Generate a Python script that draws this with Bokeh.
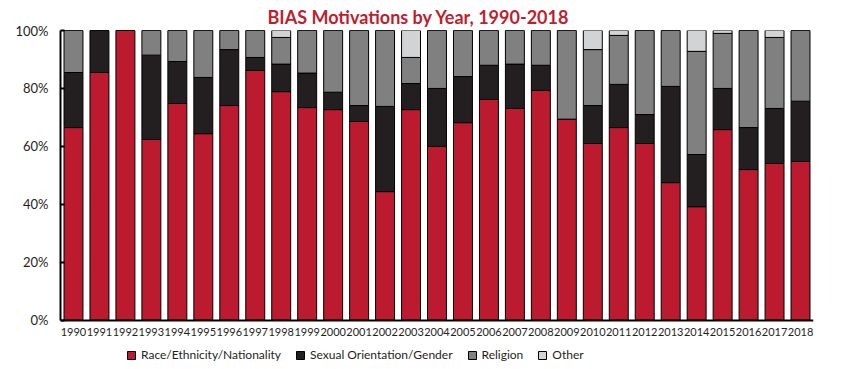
from bokeh.plotting import figure
from bokeh.models import FactorRange, Range1d, Legend, LegendItem, FixedTicker, ColumnDataSource
from bokeh.embed import file_html
from bokeh.resources import INLINE

years = [str(y) for y in range(1990, 2019)]
race = [66.5, 85.5, 100, 62.4, 74.8, 64.4, 74.1, 86.2, 78.9, 73.4, 72.7, 68.6, 44.4, 72.7, 60.0,
        68.2, 76.2, 73.1, 79.3, 69.4, 61.0, 66.5, 61.0, 47.5, 39.2, 65.8, 52.0, 54.1, 54.8]
sexual = [19.0, 14.5, 0, 29.1, 14.5, 19.4, 19.3, 4.5, 9.5, 11.9, 6.0, 5.5, 29.4, 9.0, 20.0,
          15.9, 11.8, 15.3, 8.7, 0, 13.1, 14.9, 10.0, 33.2, 18.0, 14.2, 14.5, 19.0, 20.8]
religion = [14.5, 0, 0, 8.5, 10.7, 16.2, 6.6, 9.3, 9.2, 14.7, 21.3, 25.9, 26.2, 9.0, 20.0,
            15.9, 12.0, 11.6, 12.0, 30.6, 19.3, 16.9, 29.0, 19.3, 35.6, 19.0, 33.5, 24.5, 24.4]
other = [0, 0, 0, 0, 0, 0, 0, 0, 2.4, 0, 0, 0, 0, 9.3, 0,
         0, 0, 0, 0, 0, 6.6, 1.7, 0, 0, 7.2, 1.0, 0, 2.4, 0]
series = ["race", "sexual", "religion", "other"]
names = ["Race/Ethnicity/Nationality", "Sexual Orientation/Gender", "Religion", "Other"]
colors = ["#bb1a2f", "#231f20", "#808080", "#d1d3d4"]
yticks = [0, 20, 40, 60, 80, 100]

src = ColumnDataSource(dict(years=years, race=race, sexual=sexual, religion=religion, other=other))

p = figure(width=844, height=369, output_backend="svg", toolbar_location=None,
           x_range=FactorRange(*years, range_padding=0), y_range=Range1d(-17.0, 100),
           min_border_left=60, min_border_right=31, min_border_top=30, min_border_bottom=0)
p.title.text = "BIAS Motivations by Year, 1990-2018"
p.title.align = "left"
p.title.offset = 207
p.title.text_font = "Lato"
p.title.text_font_size = "18px"
p.title.text_font_style = "bold"
p.title.text_color = "#be1e2d"
p.title.standoff = 6

renderers = p.vbar_stack(series, x="years", width=0.73, source=src, color=colors,
                         line_color="black", line_width=1)

p.outline_line_color = None
p.xgrid.grid_line_color = None
p.ygrid.grid_line_color = None

p.yaxis.ticker = FixedTicker(ticks=yticks)
p.yaxis.bounds = (0, 100)
p.yaxis.major_label_overrides = {t: f"{t}%" for t in yticks}
p.yaxis.major_tick_in = 4
p.yaxis.major_tick_out = 0
p.yaxis.minor_tick_line_color = None
p.yaxis.axis_line_width = 2
p.yaxis.major_tick_line_width = 2
p.yaxis.major_label_text_font = "Lato"
p.yaxis.major_label_text_font_size = "13px"
p.yaxis.major_label_text_color = "#231f20"
p.yaxis.major_label_standoff = 12

p.xaxis.fixed_location = 0
p.xaxis.major_tick_line_color = None
p.xaxis.axis_line_width = 2
p.xaxis.major_label_text_font = "Lato"
p.xaxis.major_label_text_font_size = "11px"
p.xaxis.major_label_text_color = "#231f20"
p.xaxis.major_label_standoff = 2

legend = Legend(items=[LegendItem(label=n, renderers=[r]) for n, r in zip(names, renderers)],
                orientation="horizontal", location=(66, 7), padding=0, margin=0,
                spacing=14, label_standoff=5, glyph_width=10, glyph_height=10,
                label_text_font="Lato", label_text_font_size="12px",
                label_text_color="#231f20", border_line_color=None, background_fill_alpha=0)
p.add_layout(legend, "center")

open("out.html", "w").write(file_html(p, INLINE))
